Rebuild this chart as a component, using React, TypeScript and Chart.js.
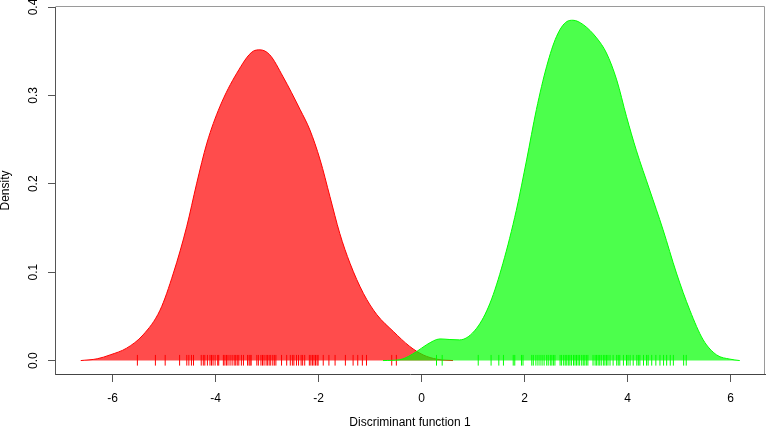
import React, { useEffect, useRef } from "react";
import { Chart, registerables } from "chart.js";

Chart.register(...registerables);

// Density curve of group 1 (red)
const redX = [-6.62, -6.3, -6.05, -5.73, -5.41, -5.08, -4.82, -4.56, -4.37, -4.17, -3.92, -3.59, -3.27, -3.14, -2.95, -2.69, -2.36, -2.17, -1.97, -1.78, -1.59, -1.39, -1.13, -0.87, -0.55, -0.23, 0.03, 0.3, 0.61];
const redY = [0, 0.002, 0.0064, 0.014, 0.029, 0.057, 0.099, 0.152, 0.2, 0.246, 0.287, 0.325, 0.35, 0.3515, 0.346, 0.321, 0.284, 0.261, 0.227, 0.1855, 0.144, 0.11, 0.076, 0.052, 0.033, 0.016, 0.0064, 0.0015, 0];

// Density curve of group 2 (green)
const greenX = [-0.75, -0.42, -0.1, 0.1, 0.36, 0.55, 0.74, 1.07, 1.33, 1.58, 1.84, 2.04, 2.23, 2.43, 2.62, 2.82, 2.94, 3.14, 3.4, 3.59, 3.79, 3.98, 4.17, 4.43, 4.69, 4.95, 5.21, 5.47, 5.73, 5.99, 6.18];
const greenY = [0, 0.001, 0.01, 0.018, 0.0245, 0.0238, 0.0234, 0.0366, 0.065, 0.11, 0.17, 0.227, 0.284, 0.333, 0.3665, 0.3835, 0.385, 0.38, 0.365, 0.348, 0.3175, 0.276, 0.238, 0.193, 0.148, 0.099, 0.057, 0.0234, 0.0064, 0.0016, 0];

// Rug (observations)
const redRug = [-5.52, -5.17, -4.98, -4.7, -4.56, -4.52, -4.47, -4.43, -4.28, -4.24, -4.21, -4.16, -4.11, -4.08, -4.05, -4.01, -3.96, -3.94, -3.85, -3.82, -3.79, -3.76, -3.72, -3.68, -3.64, -3.61, -3.58, -3.55, -3.5, -3.46, -3.38, -3.35, -3.33, -3.31, -3.2, -3.17, -3.12, -3.09, -3.06, -3.02, -2.99, -2.96, -2.93, -2.89, -2.86, -2.83, -2.72, -2.62, -2.55, -2.51, -2.48, -2.43, -2.39, -2.34, -2.31, -2.27, -2.18, -2.15, -2.12, -2.09, -2.06, -2.03, -2.01, -1.91, -1.8, -1.68, -1.48, -1.33, -1.24, -1.15, -1.07, -0.58, -0.49];
const greenRug = [0.29, 0.4, 1.1, 1.35, 1.5, 1.59, 1.78, 1.81, 1.94, 1.97, 2.14, 2.17, 2.22, 2.26, 2.3, 2.34, 2.38, 2.43, 2.46, 2.5, 2.53, 2.56, 2.59, 2.69, 2.72, 2.76, 2.79, 2.82, 2.85, 2.88, 2.91, 2.95, 2.98, 3.01, 3.04, 3.07, 3.11, 3.14, 3.17, 3.2, 3.23, 3.33, 3.37, 3.4, 3.43, 3.46, 3.49, 3.53, 3.56, 3.59, 3.62, 3.66, 3.72, 3.79, 3.82, 3.85, 3.92, 3.98, 4.01, 4.05, 4.11, 4.18, 4.21, 4.24, 4.31, 4.37, 4.4, 4.47, 4.55, 4.63, 4.7, 4.76, 4.83, 4.89, 5.09, 5.14];
const rugLow = -0.0057;
const rugHigh = 0.0064;

// Axis ticks and titles
const xTicks = [-6, -4, -2, 0, 2, 4, 6];
const yTicks = [0, 0.1, 0.2, 0.3, 0.4];
const xTitle = "Discriminant function 1";
const yTitle = "Density";
const xMin = -7.12;
const xMax = 6.67;
const yMin = -0.0152;
const yMax = 0.4;

const FONT = "'Liberation Sans', Arial, Helvetica, sans-serif";

function curve(xs: number[], ys: number[]) {
  return xs.map((x, i) => ({ x, y: ys[i] }));
}

function rug(vals: number[]) {
  const out: any[] = [];
  vals.forEach((v) => {
    out.push({ x: v, y: rugLow });
    out.push({ x: v, y: rugHigh });
    out.push({ x: v, y: null });
  });
  return out;
}

const boxPlugin = {
  id: "boxPlugin",
  afterDraw(chart: any) {
    const { ctx, chartArea } = chart;
    ctx.save();
    ctx.strokeStyle = "#9a9a9a";
    ctx.lineWidth = 1;
    ctx.beginPath();
    ctx.moveTo(Math.round(chartArea.left) + 0.5, Math.round(chartArea.top) - 0.5);
    ctx.lineTo(Math.round(chartArea.right) - 0.5, Math.round(chartArea.top) - 0.5);
    ctx.lineTo(Math.round(chartArea.right) - 0.5, Math.round(chartArea.bottom));
    ctx.stroke();
    ctx.restore();
  },
};

export default function App() {
  const ref = useRef<HTMLCanvasElement | null>(null);
  useEffect(() => {
    if (!ref.current) return;
    const chart = new Chart(ref.current, {
      type: "line",
      data: {
        datasets: [
          {
            label: "green rug",
            data: rug(greenRug),
            borderColor: "rgba(0,255,0,1)",
            borderWidth: 1,
            pointRadius: 0,
            spanGaps: false,
            fill: false,
            order: 1,
          } as any,
          {
            label: "green",
            data: curve(greenX, greenY),
            borderColor: "rgba(0,255,0,1)",
            backgroundColor: "rgba(0,255,0,0.7)",
            borderWidth: 1,
            pointRadius: 0,
            fill: "origin",
            cubicInterpolationMode: "monotone",
            order: 2,
          } as any,
          {
            label: "red rug",
            data: rug(redRug),
            borderColor: "rgba(255,0,0,1)",
            borderWidth: 1,
            pointRadius: 0,
            spanGaps: false,
            fill: false,
            order: 3,
          } as any,
          {
            label: "red",
            data: curve(redX, redY),
            borderColor: "rgba(255,0,0,1)",
            backgroundColor: "rgba(255,0,0,0.7)",
            borderWidth: 1,
            pointRadius: 0,
            fill: "origin",
            cubicInterpolationMode: "monotone",
            order: 4,
          } as any,
        ],
      },
      options: {
        animation: false,
        responsive: false,
        maintainAspectRatio: false,
        layout: { padding: { top: 7, right: 2, left: 0, bottom: 0 } },
        plugins: {
          legend: { display: false },
          tooltip: { enabled: false },
          filler: { propagate: false },
        },
        scales: {
          x: {
            type: "linear",
            min: xMin,
            max: xMax,
            afterBuildTicks: (s: any) => {
              s.ticks = xTicks.map((v) => ({ value: v }));
            },
            afterFit: (s: any) => {
              s.height = 55;
              s.paddingLeft = 0;
              s.paddingRight = 0;
              s.paddingTop = 0;
              s.paddingBottom = 0;
            },
            grid: {
              drawOnChartArea: false,
              drawTicks: true,
              tickLength: 8,
              color: "#555",
            },
            border: { display: true, color: "#444", width: 1 },
            ticks: {
              color: "#000",
              padding: 9,
              font: { family: FONT, size: 12 },
              maxRotation: 0,
              minRotation: 0,
              callback: (v: any) => String(v),
            },
            title: {
              display: true,
              text: xTitle,
              color: "#000",
              font: { family: FONT, size: 12, lineHeight: 1 },
              padding: { top: 0, bottom: 0 },
            },
          },
          y: {
            type: "linear",
            min: yMin,
            max: yMax,
            afterBuildTicks: (s: any) => {
              s.ticks = yTicks.map((v) => ({ value: v }));
            },
            afterFit: (s: any) => {
              s.width = 55;
              s.paddingLeft = 0;
              s.paddingRight = 0;
              s.paddingTop = 0;
              s.paddingBottom = 0;
            },
            grid: {
              drawOnChartArea: false,
              drawTicks: true,
              tickLength: 7,
              color: "#555",
            },
            border: { display: true, color: "#555", width: 1 },
            ticks: {
              color: "#000",
              padding: 6,
              crossAlign: "center",
              minRotation: 90,
              maxRotation: 90,
              font: { family: FONT, size: 12 },
              callback: (v: any) => Number(v).toFixed(1),
            },
            title: {
              display: true,
              text: yTitle,
              color: "#000",
              font: { family: FONT, size: 12, lineHeight: 1 },
              padding: { top: 0, bottom: 0 },
            },
          },
        },
      },
      plugins: [boxPlugin],
    });
    return () => chart.destroy();
  }, []);

  return (
    <div style={{ position: "fixed", left: 0, top: 0, width: 767, height: 429, background: "#fff" }}>
      <canvas ref={ref} width={767} height={429} style={{ display: "block", width: 767, height: 429 }} />
    </div>
  );
}
